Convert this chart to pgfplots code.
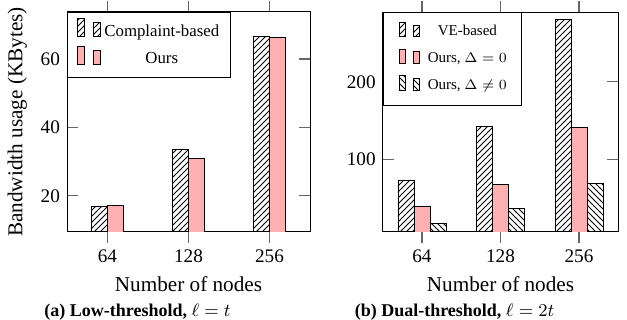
\documentclass[border=0pt]{standalone}
\usepackage{pgfplots}
\pgfplotsset{compat=1.18}
\usepackage{fontspec}
\setmainfont{Liberation Serif}
\usetikzlibrary{patterns}
\definecolor{oursred}{HTML}{FFB1B1}
\begin{document}
\begin{tikzpicture}
\path[use as bounding box] (0,0) rectangle (313.5pt,-160pt);
\pgfplotsset{
  common/.style={
    ybar=0pt, bar width=8pt,
    scale only axis, height=110pt,
    xmin=-0.5, xmax=2.5, xtick={0,1,2}, xticklabels={64,128,256},
    xtick pos=both, ytick pos=both,
    xtick align=outside, ytick align=inside,
    major tick length=5.5pt,
    tick style={black!60, line width=0.6pt},
    axis line style={black, line width=0.5pt},
    /pgf/number format/assume math mode=true,
    xlabel={Number of nodes},
    label style={font=\fontsize{10.6}{12}\selectfont},
    tick label style={font=\fontsize{9.6}{11}\selectfont},
    legend cell align=center,
  },
  legL/.style={legend image code/.code={
      \path (-1pt,0pt) (11.5pt,0pt);
      \draw[##1] (0pt,-0.3pt) rectangle (3.5pt,8.7pt);
      \draw[##1] (8pt,-0.3pt) rectangle (11.5pt,6.7pt);}},
  legR/.style={legend image code/.code={
      \path (-2.65pt,0pt) (10.3pt,0pt);
      \draw[##1] (0pt,-0.3pt) rectangle (3.3pt,6.8pt);
      \draw[##1] (7.3pt,-0.3pt) rectangle (10.3pt,5.4pt);}},
}
\begin{axis}[common, legL,
  at={(33.5pt,-116pt)}, anchor=south west, width=121.5pt,
  ymin=9.4, ymax=73.75, ytick={20,40,60},
  ylabel={Bandwidth usage (KBytes)},
  legend style={at={(0,1)}, anchor=north west, draw=black, fill=white,
    cells={anchor=base},
    font=\fontsize{8.4}{9.5}\selectfont, row sep=1.5pt, inner xsep=3.6pt, inner ysep=3pt},
]
\addplot[draw=black, pattern=north east lines] coordinates {(0,16.9) (1,33.5) (2,66.5)};
\addlegendentry{Complaint-based}
\addplot[draw=black, fill=oursred] coordinates {(0,17.2) (1,31.0) (2,66.2)};
\addlegendentry{Ours}
\end{axis}
\begin{axis}[common, legR,
  at={(191.35pt,-116pt)}, anchor=south west, width=117.8pt,
  ymin=7.3, ymax=289.4, ytick={100,200},
  legend style={at={(0,1)}, anchor=north west, draw=black, fill=white,
    cells={anchor=base},
    font=\fontsize{7.5}{9}\selectfont, row sep=2.9pt, inner xsep=5.15pt, inner ysep=4.5pt},
]
\addplot[draw=black, pattern=north east lines] coordinates {(0,74) (1,142.8) (2,280)};
\addlegendentry{\hspace{1.85pt}VE-based\hspace{1.85pt}}
\addplot[draw=black, fill=oursred] coordinates {(0,39.7) (1,68) (2,141.5)};
\addlegendentry{\hspace{1.85pt}Ours, $\Delta = 0$\hspace{1.85pt}}
\addplot[draw=black, pattern=north west lines] coordinates {(0,18) (1,37.2) (2,69.2)};
\addlegendentry{\hspace{1.85pt}Ours, $\Delta \neq 0$\hspace{1.85pt}}
\end{axis}
\node[font=\fontsize{9}{11}\selectfont] at (68.75pt,-156pt) {\textbf{(a) Low-threshold,} $\ell = t$};
\node[font=\fontsize{9}{11}\selectfont] at (227.25pt,-156pt) {\textbf{(b) Dual-threshold,} $\ell = 2t$};
\end{tikzpicture}
\end{document}
